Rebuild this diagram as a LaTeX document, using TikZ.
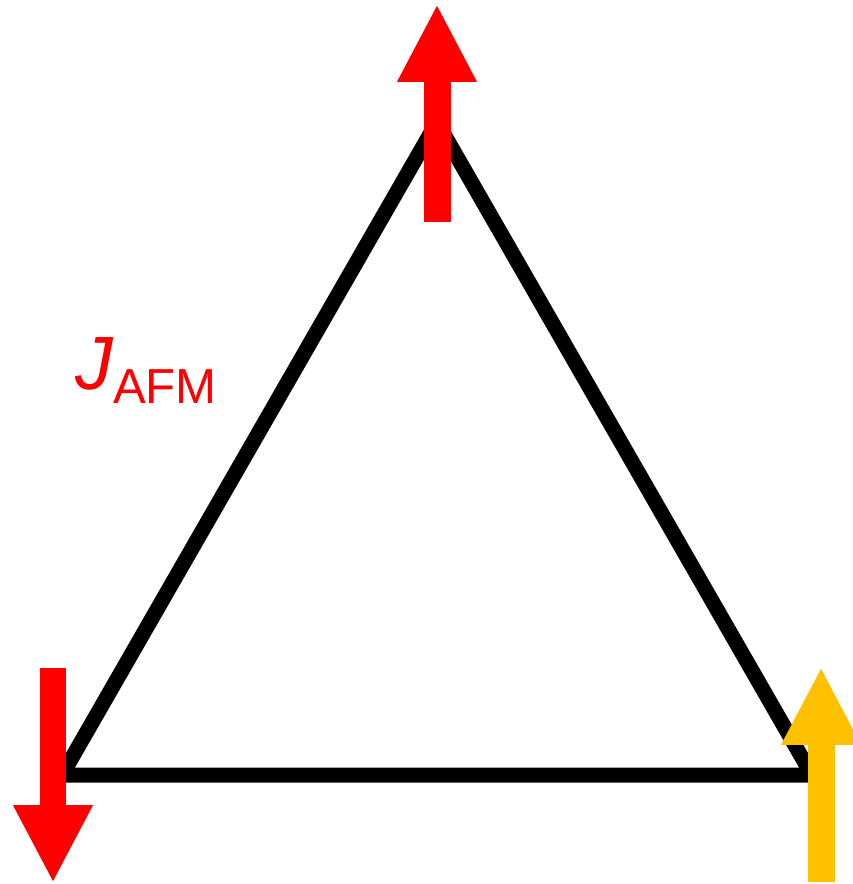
\documentclass[tikz,border=0pt]{standalone}
\usepackage{fontspec}
\setmainfont{Liberation Sans}
\usetikzlibrary{arrows.meta, positioning}
\definecolor{spinred}{HTML}{FF0000}
\definecolor{spinyellow}{HTML}{FFC000}
\tikzset{
    bond/.style={line width=0.3cm, line join=miter, draw=black},
    spin/.style={line width=0.54cm, -{Triangle[length=1.56cm, width=1.48cm]}},
    labeltext/.style={text=spinred, inner sep=0pt, anchor=base west}
}

\begin{document}
\begin{tikzpicture}[x=0.02cm, y=-0.02cm]
        \useasboundingbox (0,0) rectangle (852,884);
        % Sites
        \coordinate (top) at (437,122);
        \coordinate (left) at (62,775);
        \coordinate (right) at (812,775);

        % Bonds
        \draw[bond] (left) -- (top) -- (right) -- cycle;

        % Spins
        \coordinate (topfoot) at (437,222);
        \coordinate (tophead) at (437,4);
        \coordinate (leftfoot) at (53,668);
        \coordinate (lefthead) at (53,883);
        \coordinate (rightfoot) at (821,882);
        \coordinate (righthead) at (821,667);
        \draw[spin, spinred] (topfoot) -- (tophead);
        \draw[spin, spinred] (leftfoot) -- (lefthead);
        \draw[spin, spinyellow] (rightfoot) -- (righthead);

        % Coupling label
        \node (jafm) [labeltext] at (75,390) {\fontsize{43}{43}\selectfont\itshape J\raisebox{-7.4pt}{\fontsize{28}{28}\selectfont\upshape AFM}};
    \end{tikzpicture}
\end{document}
